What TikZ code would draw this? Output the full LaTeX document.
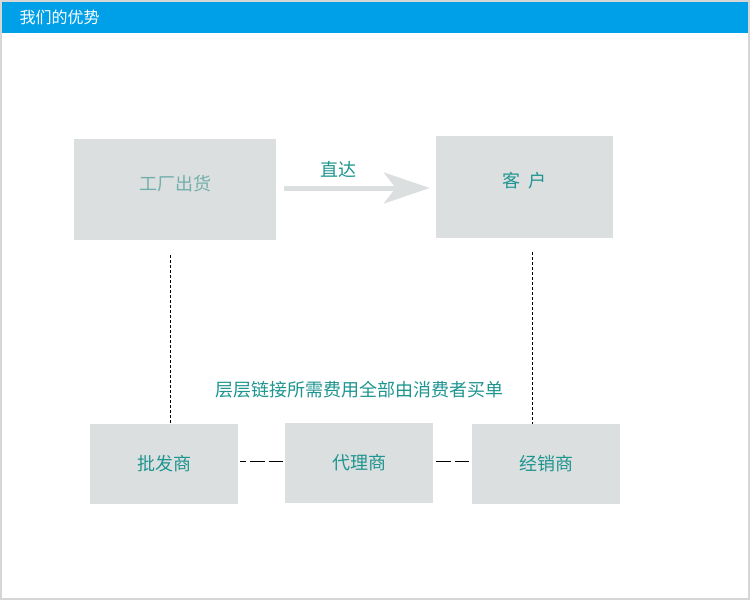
\documentclass[tikz,border=0pt]{standalone}
\usepackage{fontspec}
\setmainfont{Noto Sans CJK SC}
\definecolor{topblue}{HTML}{00A0E9}
\definecolor{boxgray}{HTML}{DCDFDF}
\definecolor{framegray}{HTML}{D6D6D6}
\definecolor{tealtext}{HTML}{1E9590}
\definecolor{paletext}{HTML}{72AFAC}
\usetikzlibrary{arrows.meta,positioning,calc}

\begin{document}
\begin{tikzpicture}[x=1pt,y=-1pt,
    gbox/.style={fill=boxgray,text=tealtext,font=\fontsize{18}{21}\selectfont,inner sep=0pt},
    raised/.style={text depth=14pt},
    dashline/.style={black,line width=0.8pt,dash pattern=on 3pt off 2pt},
    longdash/.style={black,line width=0.9pt,dash pattern=on 14.5pt off 4pt}]
    % frame and title bar
    \useasboundingbox (0,0) rectangle (750,600);
    \fill[framegray] (0,0) rectangle (750,600);
    \fill[white] (2,2) rectangle (748,598);
    \fill[topblue] (2,2) rectangle (748,33);
    \node[white,anchor=west,font=\fontsize{16}{19}\selectfont] (title) at (16,17) {我们的优势};
    % boxes
    \node[gbox,raised,minimum width=202,minimum height=101,text=paletext] (factory) at (175,189.5) {工厂出货};
    \node[gbox,raised,minimum width=177,minimum height=102] (client) at (524.5,187) {客\ \ 户};
    \node[gbox,minimum width=148,minimum height=80] (pifa) at (164,464) {批发商};
    \node[gbox,minimum width=148,minimum height=80] (daili) at (359,463) {代理商};
    \node[gbox,minimum width=148,minimum height=80] (jingxiao) at (546,464) {经销商};
    % direct arrow
    \draw[boxgray,line width=5pt,-{Stealth[length=46pt,width=31pt,inset=12pt]},shorten <=8pt,shorten >=6pt]
        (factory.east |- 0,188) -- (client.west |- 0,188);
    \node[tealtext,font=\fontsize{18}{21}\selectfont] (direct) at (338,170) {直达};
    % chain lines
    \coordinate (ltop) at (170,255);
    \coordinate (rtop) at (532,252);
    \draw[dashline] (ltop) -- (ltop |- pifa.north);
    \draw[dashline] (rtop) -- (rtop |- jingxiao.north);
    \draw[longdash,dash phase=8.5pt] ([xshift=2pt]pifa.east |- 0,461) -- ([xshift=-2pt]daili.west |- 0,461);
    \draw[longdash] ([xshift=3pt]daili.east |- 0,461) -- ([xshift=-3pt]jingxiao.west |- 0,461);
    \node[tealtext,font=\fontsize{18}{21}\selectfont] (note) at (359,390) {层层链接所需费用全部由消费者买单};
\end{tikzpicture}
\end{document}
